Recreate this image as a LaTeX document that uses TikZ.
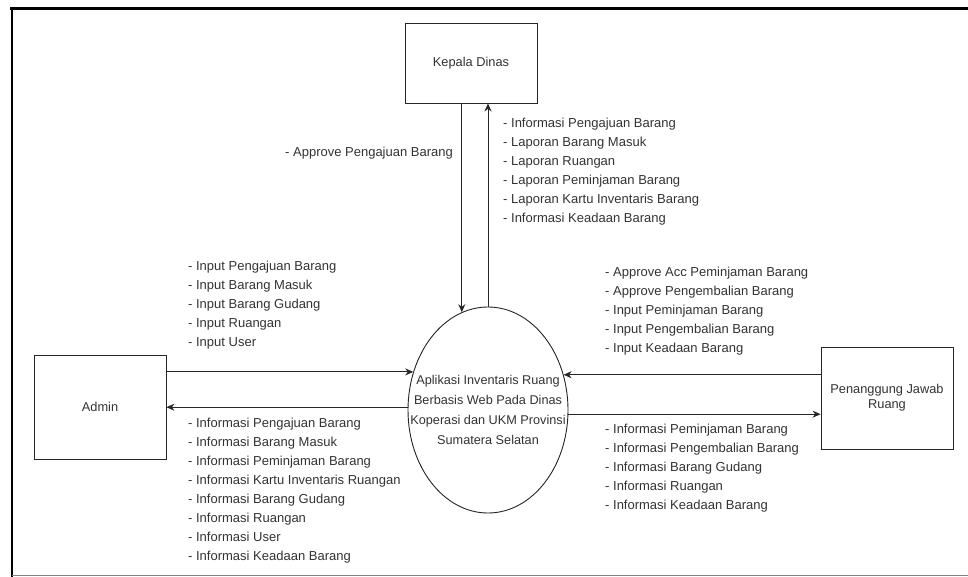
\documentclass[tikz,border=0pt]{standalone}
\usepackage{fontspec}
\setmainfont{Liberation Sans}
\usetikzlibrary{arrows.meta,shapes.geometric}
\begin{document}
\begin{tikzpicture}[x=1pt,y=-1pt,
  box/.style={draw=black!85, line width=0.9pt, minimum width=132pt, inner sep=0pt, font=\fontsize{12.8}{15}\selectfont, text=black!80, align=center},
  lbl/.style={anchor=west, align=left, inner sep=0pt, font=\fontsize{13}{19}\selectfont, text=black!80},
  arr/.style={draw=black!85, line width=0.9pt, -{Stealth[length=8pt,width=7pt]}}]
\useasboundingbox (0,0) rectangle (968,577);
\fill[white] (0,0) rectangle (968,577);
\draw[line width=3pt] (10,8.5) -- (968,8.5);
\draw[line width=2.5pt] (12,7) -- (12,577);
\draw[black!50, line width=1.5pt] (12,575.5) -- (968,575.5);

\node[box, minimum height=80pt] (kd) at (471,63) {Kepala Dinas};
\node[box, minimum height=104pt] (admin) at (100,407) {Admin};
\node[box, minimum height=102pt] (pj) at (887,398) {Penanggung Jawab\\Ruang};
\node[draw=black!85, line width=0.9pt, ellipse, minimum width=160pt, minimum height=206pt, inner sep=0pt] (e) at (488,410) {};
\node[font=\fontsize{12.7}{20}\selectfont, align=center, text=black!80, inner sep=0pt] (et) at (e.center) {Aplikasi Inventaris Ruang\\Berbasis Web Pada Dinas\\Koperasi dan UKM Provinsi\\Sumatera Selatan};

\draw[arr] (admin.east |- e.153.65) -- (e.153.65);
\draw[arr] (e.178.6) -- (admin.east |- e.178.6);
\draw[arr] (pj.west |- e.25.6) -- (e.25.6);
\draw[arr] (e.357.1) -- (pj.west |- e.357.1);
\draw[arr] (kd.south -| e.105.6) -- (e.105.6);
\draw[arr] (e.90) -- (kd.south -| e.90);

\node[lbl] (lapp) at (285,153) {- Approve Pengajuan Barang};
\node[lbl] (lkd) at (503,171.5) {- Informasi Pengajuan Barang\\- Laporan Barang Masuk\\- Laporan Ruangan\\- Laporan Peminjaman Barang\\- Laporan Kartu Inventaris Barang\\- Informasi Keadaan Barang};
\node[lbl] (lain) at (188,305) {- Input Pengajuan Barang\\- Input Barang Masuk\\- Input Barang Gudang\\- Input Ruangan\\- Input User};
\node[lbl] (laout) at (188,490.5) {- Informasi Pengajuan Barang\\- Informasi Barang Masuk\\- Informasi Peminjaman Barang\\- Informasi Kartu Inventaris Ruangan\\- Informasi Barang Gudang\\- Informasi Ruangan\\- Informasi User\\- Informasi Keadaan Barang};
\node[lbl] (lpin) at (605,311) {- Approve Acc Peminjaman Barang\\- Approve Pengembalian Barang\\- Input Peminjaman Barang\\- Input Pengembalian Barang\\- Input Keadaan Barang};
\node[lbl] (lpout) at (605,468) {- Informasi Peminjaman Barang\\- Informasi Pengembalian Barang\\- Informasi Barang Gudang\\- Informasi Ruangan\\- Informasi Keadaan Barang};
\end{tikzpicture}
\end{document}
